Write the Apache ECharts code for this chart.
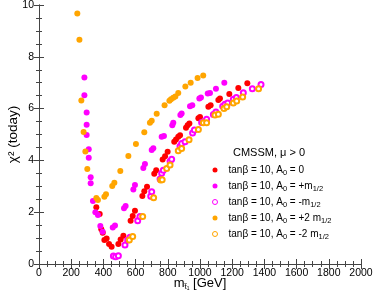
<!DOCTYPE html>
<html><head><meta charset="utf-8">
<script src="https://cdn.jsdelivr.net/npm/echarts@6/dist/echarts.min.js"></script>
<style>html,body{margin:0;padding:0;background:#fff}#c{width:374px;height:294px}</style>
</head><body><div id="c"></div><script>
// x range / ticks
const xMin = 0, xMax = 2000, xStep = 200;
const yMin = 0, yMax = 10, yStep = 2;

// tanβ = 10, A0 = 0 (red, filled)
const a0Zero = [[356,2.19],[377,1.93],[387,1.34],[396,1.21],[406,0.93],[420,0.98],[435,0.77],[451,0.67],
  [493,0.77],[507,0.95],[524,1.09],[569,1.67],[582,1.85],[596,2.06],[642,2.63],[654,2.81],[671,2.98],
  [716,3.48],[728,3.62],[768,4.03],[783,4.16],[799,4.33],[840,4.72],[851,4.81],[865,4.91],[876,4.97],
  [913,5.26],[923,5.36],[934,5.42],[990,5.63],[1000,5.68],[1052,6.07],[1066,6.13],[1114,6.33],[1124,6.39],
  [1182,6.56],[1238,6.80],[1294,6.98]];
// A0 = +m1/2 (magenta, filled)
const a0PlusM = [[282,7.2],[282,6.52],[296,5.85],[296,5.38],[296,4.98],[309,4.43],[309,4.10],[321,3.35],[321,3.12],
  [335,2.43],[350,2.0],[366,1.89],[381,1.47],[395,1.25],
  [458,1.41],[472,1.49],[528,2.15],[538,2.24],[586,2.88],[596,3.05],[648,3.71],[658,3.86],[700,4.40],[710,4.47],
  [762,4.91],[776,4.94],[828,5.36],[834,5.45],[878,5.75],[886,5.81],[938,6.09],[952,6.13],[996,6.39],[1006,6.43],
  [1048,6.58],[1062,6.60],[1099,6.77],[1151,7.0]];
// A0 = -m1/2 (magenta, open)
const a0MinusM = [[462,0.31],[476,0.28],[493,0.32],[534,0.73],[551,0.93],[565,1.03],[613,1.67],[627,1.83],
  [694,2.62],[700,2.79],[752,3.28],[762,3.5],[772,3.62],[814,3.97],[824,4.04],[876,4.55],[886,4.65],[907,4.72],
  [954,5.06],[965,5.17],[1010,5.46],[1023,5.49],[1041,5.59],[1083,5.77],[1099,5.87],[1141,6.09],[1155,6.17],
  [1172,6.22],[1207,6.36],[1226,6.43],[1269,6.61],[1325,6.77],[1379,6.93]];
// A0 = +2 m1/2 (orange, filled)
const a0Plus2M = [[238,9.67],[251,8.66],[263,6.31],[277,5.10],[288,4.34],[300,3.67],[356,2.55],[366,2.47],
  [406,2.60],[416,2.69],[455,3.01],[468,3.14],[505,3.59],[555,4.17],[602,4.63],[654,5.09],[689,5.45],[700,5.53],
  [731,5.80],[780,6.13],[810,6.30],[820,6.36],[834,6.42],[847,6.47],[865,6.60],[909,6.85],[942,7.0],[985,7.18],[1020,7.28]];
// A0 = -2 m1/2 (orange, open)
const a0Minus2M = [[561,0.93],[582,1.06],[644,1.83],[712,2.56],[756,3.24],[765,3.25],[793,3.69],[814,3.82],
  [865,4.37],[886,4.46],[932,4.80],[990,5.19],[1021,5.45],[1041,5.45],[1093,5.75],[1114,5.78],[1149,6.0],
  [1166,6.07],[1207,6.22],[1228,6.29],[1265,6.45],[1364,6.77]];

const names = ['A0 = 0','A0 = +m','A0 = -m','A0 = +2m','A0 = -2m'];
const colors = ['#ff0000','#ff00ff','#ff00ff','#ffa500','#ffa500'];
const openFlags = [false,false,true,false,true];
const legendRich = {
  'A0 = 0':   '{t|tanβ = 10, A}{s|0}{t| = 0}',
  'A0 = +m':  '{t|tanβ = 10, A}{s|0}{t| = +m}{s|1/2}',
  'A0 = -m':  '{t|tanβ = 10, A}{s|0}{t| = -m}{s|1/2}',
  'A0 = +2m': '{t|tanβ = 10, A}{s|0}{t| = +2 m}{s|1/2}',
  'A0 = -2m': '{t|tanβ = 10, A}{s|0}{t| = -2 m}{s|1/2}'
};
const FONT = 'Liberation Sans, Arial, sans-serif';
const axisCol = '#444';
function xAx(pos, show){
  return {type:'value', position:pos, min:xMin, max:xMax, interval:xStep,
    axisLine:{show:true, lineStyle:{color:axisCol, width:1}},
    axisTick:{show:true, inside:true, length:5, lineStyle:{color:axisCol}},
    minorTick:{show:true, splitNumber:4, length:3, lineStyle:{color:axisCol}},
    splitLine:{show:false}, minorSplitLine:{show:false},
    axisLabel:{show:show, color:'#000', fontSize:10.5, fontFamily:FONT, margin:4, formatter:function(v){return String(v);}}};
}
function yAx(pos, show){
  return {type:'value', position:pos, min:yMin, max:yMax, interval:yStep,
    axisLine:{show:true, lineStyle:{color:axisCol, width:1}},
    axisTick:{show:true, inside:true, length:5, lineStyle:{color:axisCol}},
    minorTick:{show:true, splitNumber:4, length:3, lineStyle:{color:axisCol}},
    splitLine:{show:false}, minorSplitLine:{show:false},
    axisLabel:{show:show, color:'#000', fontSize:10.5, fontFamily:FONT, margin:5, formatter:function(v){return String(v);}}};
}
const xb = xAx('bottom', true);
xb.name = '{a|m}{s|t̃₁}{a| [GeV]}';
xb.nameLocation = 'middle'; xb.nameGap = 12; xb.nameMoveOverlap = false;
xb.nameTextStyle = {fontFamily:FONT, color:'#000', rich:{a:{fontSize:13, lineHeight:15, fontFamily:FONT, color:'#000'}, s:{fontSize:8, lineHeight:8, verticalAlign:'bottom', fontFamily:FONT, color:'#000'}}};
const yl = yAx('left', true);
yl.name = 'χ² (today)';
yl.nameLocation = 'middle'; yl.nameGap = 19; yl.nameRotate = 90; yl.nameMoveOverlap = false;
yl.nameTextStyle = {fontFamily:FONT, color:'#000', fontSize:13.5};

function sc(name, data, color, open){
  return {name:name, type:'scatter', data:data, symbol: open ? 'emptyCircle' : 'circle', symbolSize: open ? 5 : 6,
    itemStyle: open ? {color:color, borderColor:color, borderWidth:1, opacity:1} : {color:color, opacity:1},
    emphasis:{disabled:true}, animation:false};
}
const legendData = names.map(function(n, i){
  return openFlags[i]
    ? {name:n, icon:'circle', itemStyle:{color:'#fff', borderColor:colors[i], borderWidth:1}}
    : {name:n, icon:'circle'};
});
const chart = echarts.init(document.getElementById('c'), null, {renderer:'canvas'});
chart.setOption({
  animation:false,
  backgroundColor:'#fff',
  grid:{left:39, right:13, top:5, bottom:30, containLabel:false, outerBoundsMode:'none'},
  title:{text:'CMSSM, μ > 0', left:233, top:147, padding:0, textStyle:{fontSize:11, fontWeight:'normal', color:'#000', fontFamily:FONT}},
  legend:{orient:'vertical', left:212, top:165, padding:0, itemGap:4, itemWidth:17, itemHeight:5,
    data:legendData, selectedMode:false,
    formatter:function(n){return legendRich[n];},
    textStyle:{fontFamily:FONT, color:'#000', fontSize:10,
      rich:{t:{fontSize:10, lineHeight:14, fontFamily:FONT, color:'#000'}, s:{fontSize:7.5, lineHeight:8, verticalAlign:'bottom', fontFamily:FONT, color:'#000'}}}},
  xAxis:[xb, xAx('top', false)],
  yAxis:[yl, yAx('right', false)],
  series:names.map(function(n, i){
    return sc(n, [a0Zero, a0PlusM, a0MinusM, a0Plus2M, a0Minus2M][i], colors[i], openFlags[i]);
  })
});
</script></body></html>
